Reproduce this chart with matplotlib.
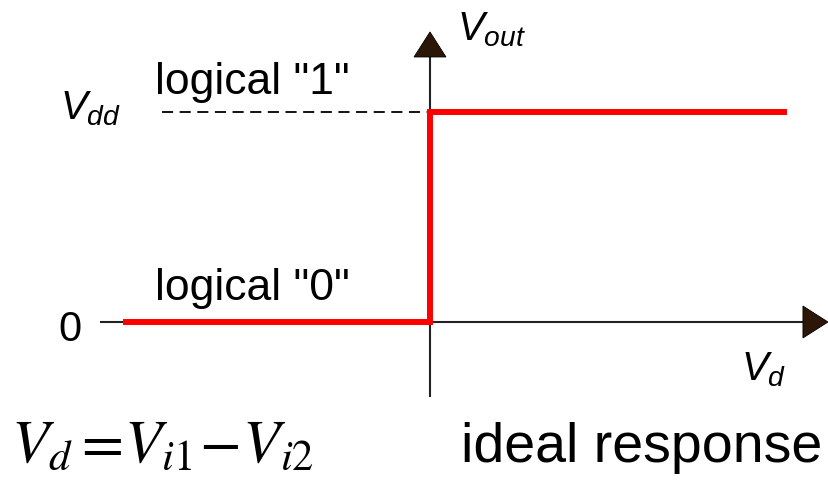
import matplotlib
matplotlib.use("Agg")
import matplotlib.pyplot as plt

# ideal comparator transfer curve (Vd in arbitrary units, Vout normalised to Vdd)
vd = [-1.46, 0.0, 0.0, 1.70]
vout = [0.0, 0.0, 1.0, 1.0]
vdd = 1.0

# axis extents (data units)
x_axis = [-1.571, 1.776]
y_axis = [-0.357, 1.262]
dash_x = [-1.276, 0.0]

plt.rcParams['mathtext.fontset'] = 'custom'
plt.rcParams['mathtext.it'] = 'Liberation Sans:italic'
plt.rcParams['mathtext.rm'] = 'Liberation Sans'
plt.rcParams['font.family'] = 'Liberation Sans'
plt.rcParams['lines.scale_dashes'] = False

fig = plt.figure(figsize=(8.29, 4.84), dpi=100)
ax = fig.add_axes([0, 0, 1, 1])
ax.set_xlim(-2.0476, 1.9)
ax.set_ylim(-0.7714, 1.5333)
ax.axis('off')

axis_col = '#222222'
head_col = '#2b1608'

# axes lines
ax.plot(x_axis, [0, 0], color=axis_col, lw=1.5, solid_capstyle='butt')
ax.plot([0, 0], y_axis, color=axis_col, lw=1.5, solid_capstyle='butt')

# arrow heads
hw = 0.076
hl = 0.119
ax.fill([x_axis[1], x_axis[1], x_axis[1] + hl], [-hw, hw, 0],
        color=head_col, ec='black', lw=0.6, zorder=4)
ax.fill([-hw, hw, 0], [y_axis[1], y_axis[1], y_axis[1] + hl],
        color=head_col, ec='black', lw=0.6, zorder=4)

# Vdd reference
ax.plot(dash_x, [vdd, vdd], color='black', lw=1.3, dashes=(8, 4.7))

# response
ax.plot(vd, vout, color='#ff0000', lw=4.3, solid_capstyle='butt',
        solid_joinstyle='miter', zorder=3)

# labels
ax.text(-1.762, 0.967, r'$V_{dd}$', fontsize=29, va='baseline')
ax.text(-1.771, -0.090, '0', fontsize=30, va='baseline')
ax.text(-1.310, 1.086, 'logical "1"', fontsize=32, va='baseline')
ax.text(-1.310, 0.105, 'logical "0"', fontsize=32, va='baseline')
ax.text(0.129, 1.343, r'$V_{out}$', fontsize=29, va='baseline')
ax.text(1.481, -0.276, r'$V_d$', fontsize=29, va='baseline')

ax.text(-1.995, -0.667, r'$V_{d}\,\!=\!V_{i1}\!-\!V_{i2}$', fontsize=44,
        va='baseline', math_fontfamily='stix')
ax.text(1.867, -0.667, 'ideal response', fontsize=40, va='baseline',
        ha='right')

fig.savefig('out.png', dpi=100)
